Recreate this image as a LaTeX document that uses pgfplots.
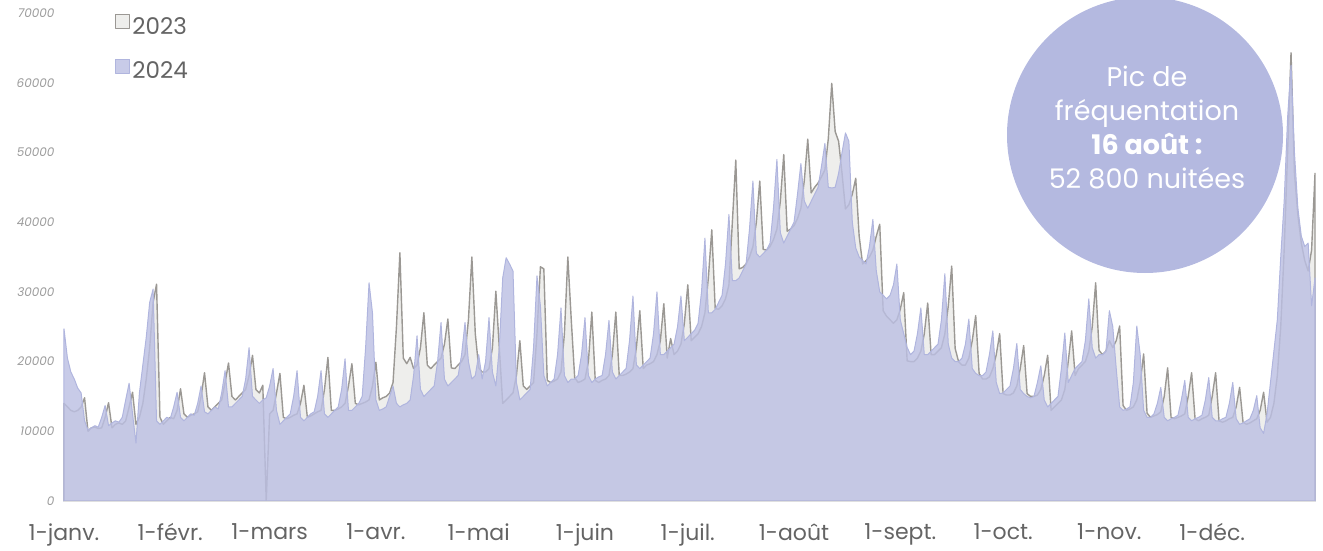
\documentclass[border=0pt]{standalone}
\usepackage{fontspec}
\setmainfont{Poppins}
\usepackage{pgfplots}
\usepackage{pgfplotstable}
\pgfplotsset{compat=1.18}
\definecolor{grayfill}{RGB}{238,238,236}
\definecolor{grayline}{RGB}{155,152,148}
\definecolor{lavfill}{RGB}{188,192,227}
\definecolor{lavline}{RGB}{176,181,222}
\definecolor{circ}{RGB}{180,185,224}
\definecolor{xtext}{RGB}{100,100,100}
\definecolor{ytext}{RGB}{155,155,155}
\pgfplotstableread{
d a b
0 14000 24700
1 13500 20500
2 13000 18500
3 12800 17500
4 13000 16200
5 13500 15500
6 14800 11500
7 10000 10200
8 10500 10500
9 10600 10800
10 10400 10600
11 10500 12000
12 12000 13700
13 14100 10800
14 10500 11200
15 11000 11500
16 11200 11300
17 11000 12000
18 11500 14500
19 13500 16900
20 15600 12500
21 11000 8300
22 12000 15500
23 14000 19500
24 17500 23500
25 22000 28500
26 28500 30400
27 31100 11500
28 12000 11000
29 11000 11500
30 11500 12000
31 12000 11800
32 11800 13500
33 13000 15600
34 16100 12000
35 12500 11500
36 12000 12000
37 12300 12500
38 12500 12300
39 12800 14000
40 15000 16500
41 18400 12800
42 13500 12500
43 13000 13000
44 13500 13500
45 14000 13200
46 14500 15500
47 17000 18700
48 19800 13500
49 15000 13500
50 14500 14000
51 15000 14500
52 15500 15000
53 16000 17500
54 18000 22000
55 20900 15000
56 16000 14500
57 15500 14000
58 16600 14500
59 0 14800
60 12500 16500
61 13000 19000
62 15500 13000
63 18300 11000
64 12000 11500
65 11800 12000
66 12000 12500
67 12300 15000
68 12500 18700
69 14000 12000
70 16600 11500
71 12000 12000
72 12200 12500
73 12500 12800
74 12800 15000
75 13000 18700
76 16000 12500
77 20600 12000
78 13000 12500
79 13000 13000
80 13200 13500
81 13500 16000
82 14000 20400
83 16500 13000
84 19700 13000
85 14000 13500
86 13800 14000
87 14000 15000
88 14200 22000
89 14500 31300
90 16500 27000
91 19900 14500
92 14500 13000
93 14800 13200
94 15000 13500
95 15500 15000
96 17000 16500
97 25000 14000
98 35600 13500
99 20500 13800
100 19700 14000
101 20600 14500
102 19000 18000
103 19500 23700
104 22000 16000
105 27000 15000
106 19500 15500
107 19000 16000
108 19500 16500
109 20000 20000
110 20500 25600
111 22500 17500
112 26100 16500
113 19100 17000
114 19000 17500
115 19500 18000
116 20000 21000
117 21000 25600
118 26000 20000
119 35000 17500
120 24000 18000
121 19100 21000
122 18500 17500
123 18500 20000
124 19000 26300
125 22000 18500
126 30100 16500
127 22000 22000
128 14000 32000
129 14500 34900
130 15000 34000
131 15500 33000
132 18000 17000
133 23000 14500
134 16500 15000
135 16000 15500
136 16500 16000
137 17000 22000
138 24000 32300
139 33600 28000
140 33300 18000
141 17300 16500
142 17000 17000
143 17200 17500
144 17500 21000
145 18500 27700
146 24000 18000
147 35000 17000
148 26000 17500
149 17700 17500
150 17000 18000
151 17200 21000
152 17500 26300
153 20000 18000
154 27100 17000
155 17300 17500
156 17000 17800
157 17300 18000
158 17500 21000
159 18000 25900
160 21000 18500
161 27100 17500
162 18000 18000
163 18000 18500
164 18200 19000
165 18500 23000
166 19000 29400
167 22000 19500
168 27300 19000
169 19000 19500
170 19500 20000
171 19700 20500
172 20000 24000
173 21000 30000
174 23000 21000
175 28300 21000
176 20500 21500
177 23300 22000
178 21000 22500
179 21500 25000
180 22500 29400
181 25500 23000
182 31000 23500
183 23000 24000
184 23500 24500
185 24000 25500
186 25000 30000
187 27000 37700
188 32000 27000
189 38900 27000
190 27600 27500
191 27500 28500
192 28000 29500
193 29000 34000
194 31000 41100
195 40000 31600
196 48900 31600
197 33300 32000
198 33500 33000
199 34000 34000
200 35000 39000
201 36500 45900
202 40000 35500
203 45900 35000
204 36100 35500
205 36000 36000
206 36500 37000
207 37500 42000
208 39000 49000
209 43000 38500
210 49700 37000
211 38700 38000
212 39000 39000
213 39500 40000
214 40500 44000
215 42000 48400
216 46000 43000
217 51900 42000
218 44200 43000
219 45000 44000
220 45600 45000
221 46500 48000
222 47500 51300
223 52000 45000
224 59900 44900
225 53000 45000
226 51600 47000
227 47000 50000
228 41900 52800
229 42500 51600
230 44000 40000
231 46300 36300
232 38000 35000
233 34000 34500
234 34500 34000
235 35000 36500
236 36000 40400
237 38000 33000
238 39700 30000
239 27300 29500
240 26500 29000
241 26000 29500
242 25500 31000
243 26000 34000
244 27500 26000
245 29900 24000
246 20100 22000
247 20000 21000
248 20000 21500
249 20500 24000
250 21500 27700
251 24000 21000
252 28400 21000
253 21000 21500
254 21000 22000
255 21500 22500
256 22000 26000
257 24000 32600
258 28000 22500
259 33700 20500
260 21900 20000
261 20000 20000
262 19500 20500
263 19500 22500
264 20500 26100
265 23000 19000
266 26600 18300
267 18300 18000
268 17500 18000
269 17500 18500
270 17800 21000
271 19000 24400
272 21000 17000
273 24000 15400
274 15400 15500
275 15200 16000
276 15200 16500
277 15500 19000
278 16500 22600
279 19000 16000
280 22300 15400
281 15400 15000
282 15000 14800
283 15000 15000
284 15200 17000
285 16000 19400
286 18000 14500
287 20900 13500
288 13000 14000
289 13500 14500
290 14000 15000
291 14500 19000
292 16000 24100
293 20000 17000
294 24400 18000
295 18000 19000
296 19000 19500
297 19500 20000
298 20000 23000
299 21500 29000
300 25000 22000
301 31300 20500
302 21600 21000
303 21000 21000
304 21500 21500
305 23000 27300
306 22000 25000
307 23000 19000
308 25100 13500
309 13700 13000
310 13000 13200
311 13200 13500
312 13500 17000
313 14500 25100
314 17000 21000
315 21100 13000
316 12600 12000
317 12000 12000
318 12200 12500
319 12400 14000
320 12800 16300
321 15000 12000
322 19100 11500
323 12000 11800
324 11800 12000
325 12000 12300
326 12200 14500
327 12500 17300
328 15000 12000
329 18400 11500
330 11800 11800
331 11500 12000
332 11800 12300
333 12000 14500
334 12300 17700
335 15000 12000
336 18400 11500
337 11500 11500
338 11300 11800
339 11500 12000
340 11800 14000
341 12000 17000
342 13500 11800
343 16300 11000
344 11300 11200
345 11000 11500
346 11200 11800
347 11500 13000
348 11800 15100
349 13000 10500
350 15600 9700
351 11300 12500
352 12000 17000
353 14000 21500
354 18000 26000
355 25000 35000
356 36000 43000
357 50000 55000
358 64300 62500
359 47000 50000
360 41000 42000
361 37000 38000
362 34500 36500
363 33000 37000
364 36000 28000
365 47000 32000
}\data

\begin{document}
\begin{tikzpicture}
\useasboundingbox (0pt,0pt) rectangle (1323pt,550pt);
\begin{axis}[
  at={(64pt,49pt)}, anchor=south west,
  scale only axis, width=1251pt, height=488pt,
  xmin=0, xmax=365, ymin=0, ymax=70000,
  axis line style={draw=none},
  major tick length=0pt,
  xtick={0,31,60,91,121,152,182,213,244,274,305,335},
  xticklabels={1-janv.,1-févr.,1-mars,1-avr.,1-mai,1-juin,1-juil.,1-août,1-sept.,1-oct.,1-nov.,1-déc.},
  ytick={0,10000,20000,30000,40000,50000,60000,70000},
  yticklabels={0,10000,20000,30000,40000,50000,60000,70000},
  xticklabel style={font=\fontsize{22}{22}\selectfont, text=xtext, yshift=-19pt},
  yticklabel style={font=\fontsize{12}{12}\selectfont\itshape, text=ytext, xshift=-6pt},
  legend style={at={(rel axis cs:0.0408,0.999)}, anchor=north west, draw=none, fill=none,
    font=\fontsize{23}{23}\selectfont, text=xtext, row sep=21pt, inner sep=0pt},
  legend cell align=left,
  legend image code/.code={\draw[#1, line width=1.2pt] (0pt,-2pt) rectangle (14pt,12pt);},
  clip=false,
]
\addplot[fill=grayfill, draw=grayline, line width=1.4pt, line join=round] table[x=d,y=a] {\data} \closedcycle;
\addlegendentry{2023}
\addplot[fill=lavfill, fill opacity=0.82, draw=lavline, line width=1pt, line join=round] table[x=d,y=b] {\data} \closedcycle;
\addlegendentry{2024}
\draw[gray!25, line width=1pt] (axis cs:0,0) -- (axis cs:365,0);
\end{axis}
\fill[circ] (1145pt,415pt) circle (138pt);
\node[text=white, align=center, font=\fontsize{27}{34}\selectfont] at (1147pt,423pt)
  {Pic de\\fréquentation\\\textbf{16 août :}\\52~800 nuitées};
\end{tikzpicture}
\end{document}
